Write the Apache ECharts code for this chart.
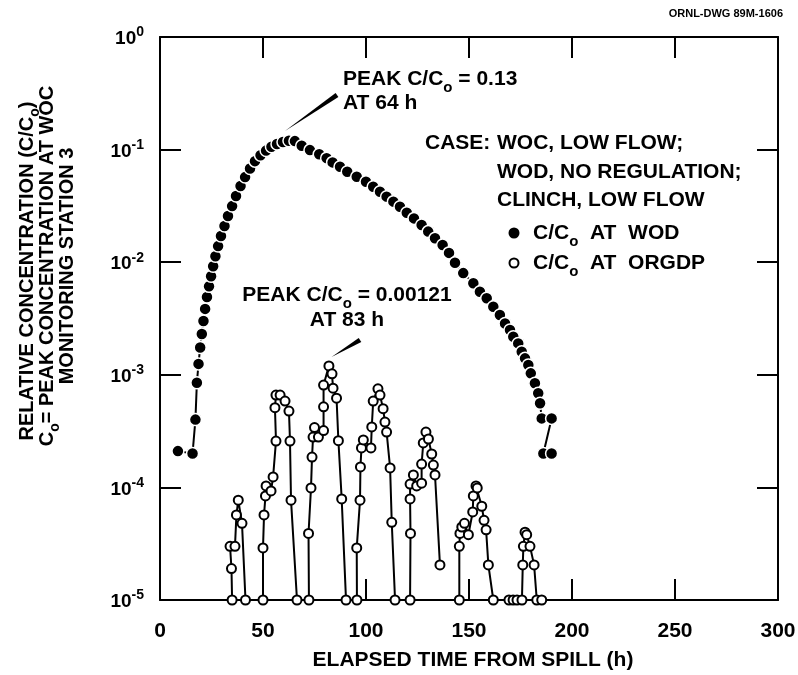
<!DOCTYPE html>
<html>
<head>
<meta charset="utf-8">
<script src="https://cdn.jsdelivr.net/npm/echarts@6/dist/echarts.min.js"></script>
<style>
html,body{margin:0;padding:0;background:#fff;}
#c{width:798px;height:675px;}
</style>
</head>
<body>
<div id="c"></div>
<script>
// ---------------- DATA ----------------
const xTicks = [0, 50, 100, 150, 200, 250, 300];
const yDecades = [1e-5, 1e-4, 1e-3, 1e-2, 1e-1, 1];

// C/Co at WOD (filled circles)
const wodTime = [
  8.7, 15.8, 17.2, 17.9, 18.7, 19.5, 20.3, 21.1, 21.9, 22.8,
  23.8, 24.8, 25.8, 26.9, 28.2, 29.6, 31.3, 33.0, 35.0, 36.9,
  39.1, 41.3, 43.7, 46.1, 48.8, 51.5, 54.1, 56.8, 59.7, 62.6,
  65.5, 68.8, 72.8, 77.3, 80.9, 83.8, 87.4, 90.9, 95.5, 100.0,
  103.5, 106.8, 110.0, 113.3, 116.5, 119.8, 123.3, 127.0, 130.2, 133.5,
  137.2, 140.3, 143.2, 147.2, 152.1, 155.3, 158.6, 161.8, 165.0, 167.5,
  169.9, 171.5, 173.9, 175.6, 177.2, 178.8, 180.0, 182.0, 183.6, 184.5,
  185.3, 190.1, 186.1, 190.1
];
const wodConc = [
  2.1e-4, 2.0e-4, 4.0e-4, 8.5e-4, 1.25e-3, 1.75e-3, 2.3e-3, 3.0e-3, 3.85e-3, 4.9e-3,
  6.1e-3, 7.5e-3, 9.2e-3, 1.13e-2, 1.39e-2, 1.71e-2, 2.1e-2, 2.57e-2, 3.15e-2, 3.87e-2,
  4.75e-2, 5.7e-2, 6.8e-2, 7.9e-2, 0.089, 0.098, 0.106, 0.112, 0.117, 0.12,
  0.119, 0.108, 0.099, 0.091, 0.084, 0.077, 0.0705, 0.0636, 0.0574, 0.0519,
  0.0468, 0.0422, 0.0382, 0.0345, 0.0311, 0.0275, 0.0245, 0.0214, 0.0187, 0.0163,
  0.0142, 0.0121, 0.0099, 0.0080, 0.0065, 0.00547, 0.00478, 0.00402, 0.0034, 0.00286,
  0.0025, 0.00218, 0.0019, 0.0016, 0.0014, 0.00122, 0.00103, 0.00084, 0.000685, 0.000558,
  0.00041, 0.00041, 0.0002, 0.0002
];

// C/Co at ORGDP (open circles), one array per pulse: [time h, C/Co]
const orgdpPulse1 = [[35,1e-5],[34.7,1.9e-5],[34,3e-5],[36.4,3e-5],[37.1,5.7e-5],[38,7.7e-5],[39.8,4.8e-5],[41.5,1e-5]];
const orgdpPulse2 = [[50,1e-5],[50,2.9e-5],[50.5,5.7e-5],[51.2,8.4e-5],[51.5,1.03e-4],[53.9,9.3e-5],[54.9,1.24e-4],[56.3,2.58e-4],[55.8,5.1e-4],[56.3,6.6e-4],[58.3,6.6e-4],[60.7,5.85e-4],[62.6,4.76e-4],[63.1,2.58e-4],[63.6,7.7e-5],[66.5,1e-5]];
const orgdpPulse3 = [[72.3,1e-5],[72.1,3.9e-5],[73.3,9.9e-5],[73.8,1.86e-4],[74.3,2.8e-4],[75,3.4e-4],[76.9,2.8e-4],[79.4,3.2e-4],[79.4,5.2e-4],[79.4,8.1e-4],[82,1.2e-3],[83.5,1.02e-3],[84,7.6e-4],[85.7,6.2e-4],[86.6,2.6e-4],[88.2,7.9e-5],[90.3,1e-5]];
const orgdpPulse4 = [[95.6,1e-5],[95.5,2.9e-5],[97.1,7.7e-5],[97.3,1.52e-4],[97.8,2.24e-4],[98.7,2.64e-4],[102.4,2.24e-4],[102.8,3.44e-4],[103.5,5.85e-4],[105.8,7.5e-4],[106.8,6.6e-4],[108.3,5.0e-4],[109.2,3.8e-4],[110,3.1e-4],[111.7,1.49e-4],[112.5,4.9e-5],[114.1,1e-5]];
const orgdpPulse5 = [[121.4,1e-5],[121.6,3.9e-5],[121.4,7.9e-5],[121.4,1.07e-4],[123,1.29e-4],[124.6,1.03e-4],[127,1.09e-4],[127,1.61e-4],[127.8,2.48e-4],[129.1,3.1e-4],[130.3,2.69e-4],[131.9,1.98e-4],[132.7,1.58e-4],[133.5,1.29e-4],[135.9,2.05e-5]];
const orgdpPulse6 = [[145.3,1e-5],[145.3,3.0e-5],[145.6,3.9e-5],[146.5,4.45e-5],[147.8,4.8e-5],[149.7,3.8e-5],[151.8,6.05e-5],[152.1,8.4e-5],[153.4,1.03e-4],[154,9.9e-5],[156.2,6.8e-5],[157.3,5.1e-5],[158.3,4.2e-5],[159.4,2.05e-5],[161.8,1e-5]];
const orgdpPulse7 = [[169.4,1e-5],[171.4,1e-5],[173.3,1e-5],[175.7,1e-5],[176.1,2.05e-5],[176.4,3.0e-5],[177.2,4.0e-5],[178,3.8e-5],[179.6,3.0e-5],[181.6,2.05e-5],[182.9,1e-5],[185.3,1e-5]];

// ---------------- CHART ----------------
const FONT = '"Liberation Sans", Arial, Helvetica, sans-serif';
const chart = echarts.init(document.getElementById('c'), null, {renderer: 'canvas'});

const wodData = wodTime.map((t, i) => [t, wodConc[i]]);
const orgdpPulses = [orgdpPulse1, orgdpPulse2, orgdpPulse3, orgdpPulse4, orgdpPulse5, orgdpPulse6, orgdpPulse7];

const black = '#000';
const axisLineStyle = {show: true, onZero: false, lineStyle: {color: black, width: 2}};
const tickStyle = {show: true, inside: true, length: 21, lineStyle: {color: black, width: 2}};

function supLabel(v) {
  const e = Math.round(Math.log10(v));
  return '{b|10}{s|' + (e < 0 ? '-' + (-e) : String(e)) + '}';
}

function makeRich(size, subSize, lh) {
  return {
    m: {fontSize: size, fontWeight: 'bold', fontFamily: FONT, fill: black, color: black, lineHeight: lh, verticalAlign: 'top'},
    s: {fontSize: subSize, fontWeight: 'bold', fontFamily: FONT, fill: black, color: black, lineHeight: lh, verticalAlign: 'bottom'}
  };
}
const rich21 = makeRich(21, 15, 26);
const rich20 = makeRich(20, 14, 25);

function richText(x, y, text, align, rotation, rich) {
  return {
    type: 'text', x: x, y: y, rotation: rotation || 0, silent: true,
    style: {text: text, rich: rich || rich21, align: align || 'left', verticalAlign: 'middle',
            font: 'bold 21px ' + FONT, fill: black}
  };
}

const graphics = [
  // y-axis title (three rotated lines)
  richText(30, 271, '{m|RELATIVE CONCENTRATION (C/C}{s|o}{m|)}', 'center', Math.PI / 2, rich20),
  richText(50, 266, '{m|C}{s|o}{m|= PEAK CONCENTRATION AT WOC}', 'center', Math.PI / 2, rich20),
  richText(70, 266, '{m|MONITORING STATION 3}', 'center', Math.PI / 2, rich20),
  // x-axis title
  richText(473, 663, '{m|ELAPSED TIME FROM SPILL (h)}', 'center'),
  // annotation WOD peak
  richText(343, 82, '{m|PEAK C/C}{s|o}{m| = 0.13}', 'left'),
  richText(343, 106, '{m|AT 64 h}', 'left'),
  {type: 'polygon', silent: true, shape: {points: [[285, 131], [338.4, 97.1], [335.6, 92.9]]}, style: {fill: black}},
  // annotation ORGDP peak
  richText(347, 298, '{m|PEAK C/C}{s|o}{m| = 0.00121}', 'center'),
  richText(347, 323, '{m|AT 83 h}', 'center'),
  {type: 'polygon', silent: true, shape: {points: [[331.5, 357], [361.3, 342.1], [358.7, 337.9]]}, style: {fill: black}},
  // case text
  richText(425, 146, '{m|CASE:}', 'left'),
  richText(497, 146, '{m|WOC, LOW FLOW;}', 'left'),
  richText(497, 175, '{m|WOD, NO REGULATION;}', 'left'),
  richText(497, 203, '{m|CLINCH, LOW FLOW}', 'left'),
  // legend
  {type: 'circle', silent: true, shape: {cx: 514, cy: 233, r: 5.5}, style: {fill: black}},
  richText(533, 236, '{m|C/C}{s|o}{m|  AT  WOD}', 'left'),
  {type: 'circle', silent: true, shape: {cx: 514, cy: 263, r: 4.5}, style: {fill: '#fff', stroke: black, lineWidth: 2}},
  richText(533, 266, '{m|C/C}{s|o}{m|  AT  ORGDP}', 'left'),
  // drawing number
  {type: 'text', x: 783, y: 14, silent: true,
   style: {text: 'ORNL-DWG 89M-1606', align: 'right', verticalAlign: 'middle', font: 'bold 11px ' + FONT, fill: black}}
];

const series = [];
orgdpPulses.forEach((p) => {
  series.push({
    name: 'C/Co AT ORGDP', type: 'line', xAxisIndex: 0, yAxisIndex: 0,
    data: p, symbol: 'circle', symbolSize: 9, showSymbol: true, clip: false,
    lineStyle: {color: black, width: 2},
    itemStyle: {color: '#fff', borderColor: black, borderWidth: 2},
    emphasis: {disabled: true}, z: 3
  });
});
series.push({
  name: 'C/Co AT WOD', type: 'line', xAxisIndex: 0, yAxisIndex: 0,
  data: wodData, symbol: 'circle', symbolSize: 12, showSymbol: true, clip: false,
  lineStyle: {color: black, width: 2},
  itemStyle: {color: black, borderColor: '#fff', borderWidth: 1.5},
  emphasis: {disabled: true}, z: 4
});

const option = {
  animation: false,
  backgroundColor: '#fff',
  grid: {left: 160, right: 20, top: 37, bottom: 75, containLabel: false, outerBoundsMode: 'none'},
  xAxis: [
    {type: 'value', position: 'bottom', min: xTicks[0], max: xTicks[xTicks.length - 1], interval: 50,
     axisLine: axisLineStyle, axisTick: tickStyle, splitLine: {show: false},
     axisLabel: {show: true, margin: 21, fontSize: 21, fontWeight: 'bold', fontFamily: FONT, color: black,
                 showMinLabel: true, showMaxLabel: true}},
    {type: 'value', position: 'top', min: xTicks[0], max: xTicks[xTicks.length - 1], interval: 50,
     axisLine: axisLineStyle, axisTick: tickStyle, splitLine: {show: false}, axisLabel: {show: false}}
  ],
  yAxis: [
    {type: 'log', logBase: 10, position: 'left', min: yDecades[0], max: yDecades[yDecades.length - 1],
     axisLine: axisLineStyle, axisTick: tickStyle, splitLine: {show: false}, minorTick: {show: false},
     axisLabel: {show: true, margin: 16, showMinLabel: true, showMaxLabel: true,
                 formatter: supLabel,
                 rich: {
                   b: {fontSize: 19, fontWeight: 'bold', fontFamily: FONT, color: black, lineHeight: 23, verticalAlign: 'bottom'},
                   s: {fontSize: 14, fontWeight: 'bold', fontFamily: FONT, color: black, lineHeight: 23, verticalAlign: 'top'}
                 }}},
    {type: 'log', logBase: 10, position: 'right', min: yDecades[0], max: yDecades[yDecades.length - 1],
     axisLine: axisLineStyle, axisTick: tickStyle, splitLine: {show: false}, minorTick: {show: false},
     axisLabel: {show: false}}
  ],
  graphic: graphics,
  series: series
};
chart.setOption(option);
</script>
</body>
</html>
